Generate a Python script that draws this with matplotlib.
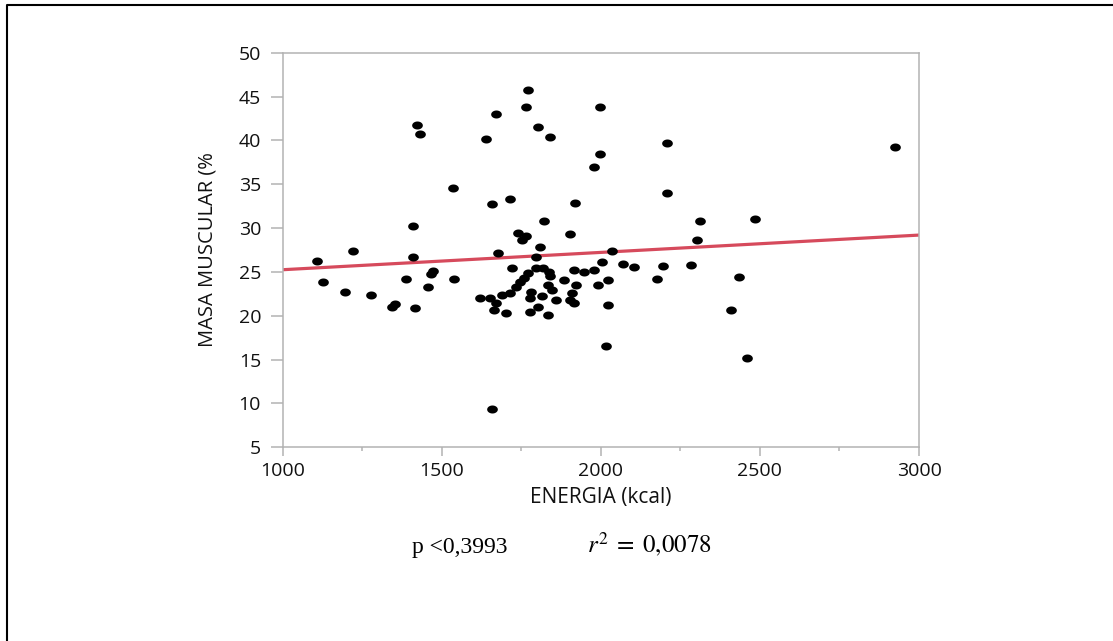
import numpy as np
import matplotlib
matplotlib.use("Agg")
import matplotlib.pyplot as plt
from matplotlib.path import Path
from matplotlib.lines import Line2D
from matplotlib.ticker import MultipleLocator

# Energy intake (kcal) vs muscle mass (%)
energia = [1108, 1128, 1195, 1221, 1277, 1344, 1353, 1389, 1408, 1408,
           1415, 1421, 1433, 1457, 1466, 1473, 1534, 1539, 1620, 1640,
           1653, 1657, 1657, 1664, 1670, 1671, 1677, 1689, 1702, 1714,
           1716, 1720, 1733, 1739, 1746, 1752, 1759, 1764, 1764, 1770,
           1771, 1777, 1777, 1782, 1796, 1796, 1802, 1802, 1808, 1815,
           1817, 1821, 1833, 1833, 1836, 1840, 1841, 1846, 1858, 1884,
           1902, 1902, 1909, 1915, 1915, 1920, 1921, 1946, 1977, 1978,
           1990, 1996, 1996, 2003, 2015, 2021, 2022, 2036, 2070, 2103,
           2177, 2196, 2208, 2208, 2284, 2301, 2312, 2408, 2433, 2458,
           2484, 2926]
masa = [26.3, 23.8, 22.7, 27.4, 22.4, 21.0, 21.3, 24.2, 26.7, 30.2,
        20.85, 41.7, 40.7, 23.3, 24.8, 25.1, 34.6, 24.2, 22.0, 40.2,
        22.0, 32.7, 9.4, 20.65, 21.4, 43.0, 27.2, 22.4, 20.3, 33.3,
        22.55, 25.4, 23.25, 29.4, 23.8, 28.6, 24.3, 29.1, 43.8, 45.8,
        24.85, 22.0, 20.45, 22.75, 26.7, 25.4, 41.5, 21.0, 27.8, 22.2,
        25.4, 30.8, 23.5, 20.1, 25.0, 40.4, 24.5, 22.9, 21.8, 24.05,
        29.3, 21.8, 22.6, 25.2, 21.4, 32.9, 23.5, 25.0, 37.0, 25.2,
        23.5, 43.8, 38.5, 26.1, 16.5, 21.2, 24.05, 27.4, 25.9, 25.55,
        24.2, 25.7, 39.7, 34.0, 25.75, 28.6, 30.8, 20.65, 24.4, 15.2,
        31.0, 39.2]

# fitted line end points
line_x = [1000, 3000]
line_y = [25.25, 29.2]

p_text = "p <0,3993"
r2_text = r"$r^2\;=\;0{,}0078$"

plt.rcParams["font.family"] = ["Open Sans", "DejaVu Sans"]
plt.rcParams["mathtext.fontset"] = "stix"

fig = plt.figure(figsize=(11.13, 6.41), dpi=100)
ax = fig.add_axes([0.254, 0.3022, 0.5717, 0.6156])

# slightly wide ellipse marker
t = np.linspace(0, 2 * np.pi, 40)
ellipse = Path(np.column_stack([np.cos(t), 0.75 * np.sin(t)]), closed=True)

ax.scatter(energia, masa, marker=ellipse, s=7.7 ** 2, color="black",
           linewidths=0, zorder=3)
ax.plot(line_x, line_y, color="#d64a5c", lw=2.3, zorder=2)

ax.set_xlim(1000, 3000)
ax.set_ylim(5, 50)
ax.xaxis.set_major_locator(MultipleLocator(500))
ax.xaxis.set_minor_locator(MultipleLocator(250))
ax.yaxis.set_major_locator(MultipleLocator(5))

grey = "#b3b3b3"
for s in ax.spines.values():
    s.set_color(grey)
    s.set_linewidth(1.1)
ax.tick_params(axis="y", length=8.6, width=1.1, color=grey, pad=7,
               labelsize=14, labelcolor="#111111")
ax.tick_params(axis="x", which="major", length=6.5, width=1.1, color=grey,
               pad=4, labelsize=14, labelcolor="#111111")
ax.tick_params(axis="x", which="minor", length=3.2, width=1.1, color=grey)

ax.set_xlabel("ENERGIA (kcal)", fontsize=15, color="#111111")
ax.set_ylabel("MASA MUSCULAR (%", fontsize=14.5, color="#111111")
ax.xaxis.set_label_coords(0.5, -0.1)
ax.yaxis.set_label_coords(-0.103, 0.5)

fig.text(412 / 1113, 1 - 553 / 641, p_text, fontsize=17,
         family="Liberation Serif", va="baseline", ha="left")
fig.text(587 / 1113, 1 - 553 / 641, r2_text, fontsize=18,
         va="baseline", ha="left")

# frame lines around the figure (top and left visible)
fig.add_artist(Line2D([7 / 1113, 7 / 1113, 1.05], [-0.05, 1 - 5 / 641, 1 - 5 / 641],
                      transform=fig.transFigure, color="black", lw=1.5))

fig.savefig("out.png", dpi=100)
